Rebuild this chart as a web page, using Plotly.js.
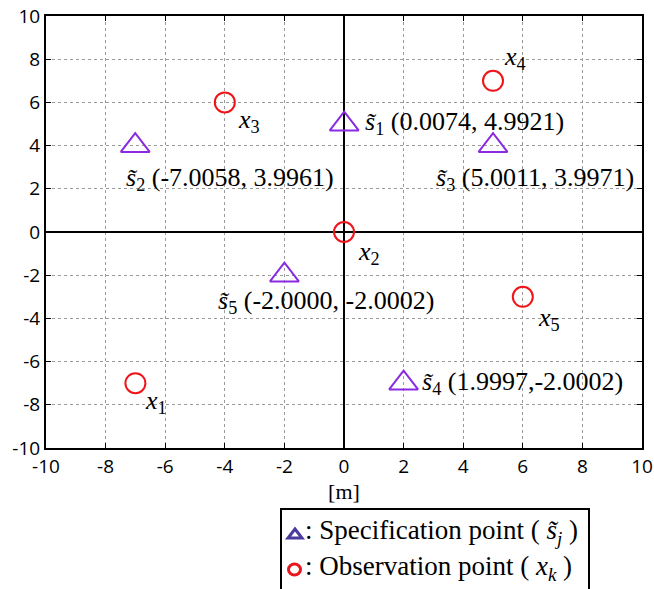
<!DOCTYPE html>
<html>
<head>
<meta charset="utf-8">
<script src="https://cdn.plot.ly/plotly-3.0.1.min.js"></script>
<style>html,body{margin:0;padding:0;background:#fff}#chart{width:654px;height:589px}</style>
</head>
<body>
<div id="chart"></div>
<script>
// Observation points x_k
const obsX = [-7, 0, -4, 5, 6];
const obsY = [-7, 0, 6, 7, -3];
const obsNames = ['1', '2', '3', '4', '5'];
// Specification points s~_j (plotted positions)
const specX = [0.0074, -7.0058, 5.0011, 2.0, -2.0000];
const specY = [4.9921, 3.9961, 3.9971, -7.0, -2.0002];
const specNames = ['1', '2', '3', '4', '5'];
const specLabels = ['(0.0074, 4.9921)', '(-7.0058, 3.9961)', '(5.0011, 3.9971)', '(1.9997,-2.0002)', '(-2.0000, -2.0002)'];
const tickVals = [-10, -8, -6, -4, -2, 0, 2, 4, 6, 8, 10];

const serif = '"Liberation Serif", "Times New Roman", serif';
const obsShift = [[8, -19], [12, -21], [11, -19], [9, 23], [13, -22]];
const specShift = [[19, 1], [-11, -33], [-59, -33], [16, 0], [-68, -27]];

const ann = [];
obsX.forEach((x, i) => ann.push({
  x: x, y: obsY[i], xref: 'x', yref: 'y', showarrow: false, xanchor: 'left', yanchor: 'middle',
  xshift: obsShift[i][0], yshift: obsShift[i][1],
  text: '<i>x</i><sub>' + obsNames[i] + '</sub>', font: {family: serif, size: 26, color: '#000'}
}));
specX.forEach((x, i) => ann.push({
  x: x, y: specY[i], xref: 'x', yref: 'y', showarrow: false, xanchor: 'left', yanchor: 'middle',
  xshift: specShift[i][0], yshift: specShift[i][1],
  text: '<i>s\u0303</i><sub>' + specNames[i] + '</sub> ' + specLabels[i], font: {family: serif, size: 26, color: '#000'}
}));
// legend texts
const px = p => (p - 46) / 596, py = p => (448 - p) / 432;
ann.push({x: px(303), y: py(532), xref: 'paper', yref: 'paper', showarrow: false, xanchor: 'left', yanchor: 'middle',
  text: ': Specification point ( <i>s\u0303</i><sub><i>j</i></sub> )', font: {family: serif, size: 27, color: '#000'}});
ann.push({x: px(303), y: py(568), xref: 'paper', yref: 'paper', showarrow: false, xanchor: 'left', yanchor: 'middle',
  text: ': Observation point ( <i>x</i><sub><i>k</i></sub> )', font: {family: serif, size: 27, color: '#000'}});

const shapes = [
  {type: 'rect', xref: 'paper', yref: 'paper', x0: px(281), x1: px(589), y0: py(620), y1: py(509), line: {color: '#000', width: 2}, fillcolor: 'rgba(0,0,0,0)'},
  {type: 'path', xref: 'paper', yref: 'paper',
   path: 'M ' + px(288) + ' ' + py(538) + ' L ' + px(302) + ' ' + py(538) + ' L ' + px(295) + ' ' + py(529) + ' Z',
   line: {color: '#4b3a9e', width: 3}, fillcolor: 'rgba(0,0,0,0)'},
  {type: 'circle', xref: 'paper', yref: 'paper', x0: px(288.5), x1: px(300.5), y0: py(575), y1: py(564), line: {color: '#e8141e', width: 3}, fillcolor: 'rgba(0,0,0,0)'}
];

const traces = [
  {x: obsX, y: obsY, type: 'scatter', mode: 'markers', showlegend: false, hoverinfo: 'skip',
   marker: {symbol: 'circle-open', size: 20, color: '#f01418', line: {width: 2}}},
  {x: specX, y: specY, type: 'scatter', mode: 'markers', showlegend: false, hoverinfo: 'skip',
   marker: {symbol: 'triangle-up-open', size: 25, color: '#8a2be2', line: {width: 2}}}
];

const axisCommon = {
  range: [-10, 10], tickvals: tickVals, ticktext: tickVals.map(String),
  showgrid: true, gridcolor: '#9a9a9a', griddash: 'dot', gridwidth: 1,
  zeroline: true, zerolinecolor: '#000', zerolinewidth: 1.5,
  showline: true, linecolor: '#000', linewidth: 2, mirror: 'ticks',
  ticks: 'inside', ticklen: 5, tickcolor: '#000', tickwidth: 1,
  tickfont: {family: '"Open Sans", sans-serif', size: 19, color: '#000'},
  fixedrange: true
};

const layout = {
  width: 654, height: 589,
  margin: {l: 46, r: 12, t: 16, b: 141},
  paper_bgcolor: '#fff', plot_bgcolor: '#fff',
  xaxis: Object.assign({}, axisCommon, {
    title: {text: '[m]', font: {family: serif, size: 22, color: '#000'}, standoff: 4}
  }),
  yaxis: Object.assign({}, axisCommon, {}),
  annotations: ann,
  shapes: shapes,
  showlegend: false
};

Plotly.newPlot('chart', traces, layout, {displayModeBar: false, staticPlot: true});
</script>
</body>
</html>
